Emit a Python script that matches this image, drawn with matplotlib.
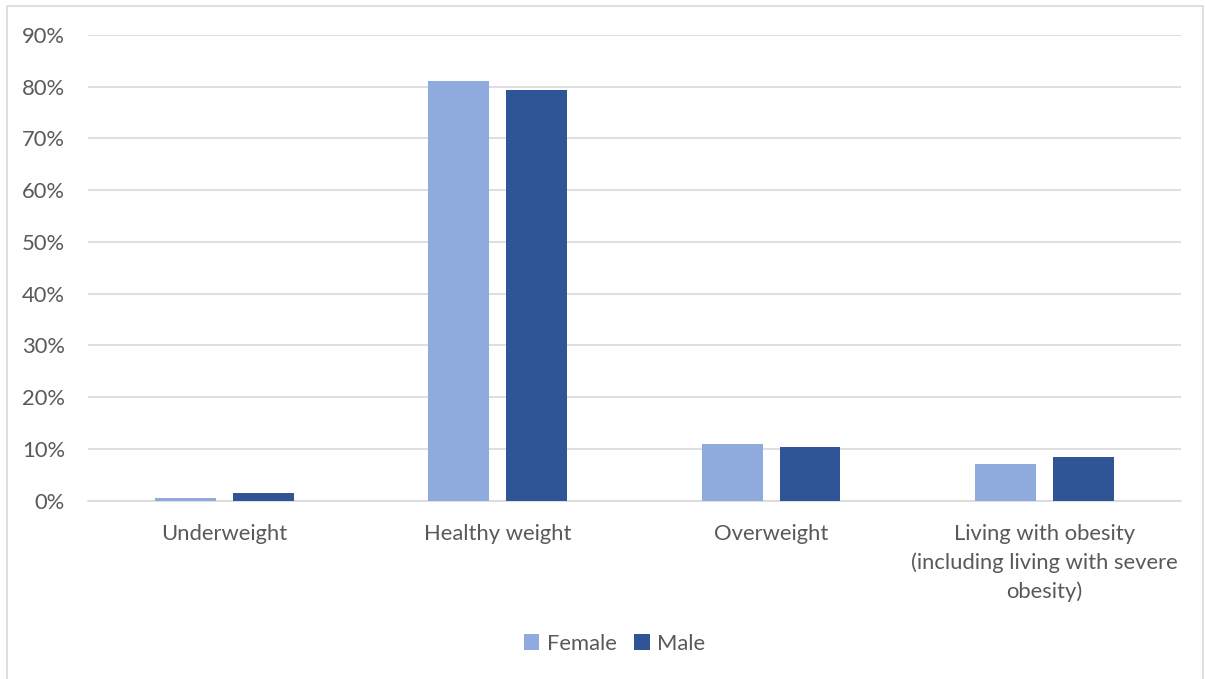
import matplotlib
matplotlib.use("Agg")
import matplotlib.pyplot as plt
from matplotlib.patches import Rectangle
from matplotlib.ticker import PercentFormatter, MultipleLocator

plt.rcParams['font.family'] = ['Lato', 'DejaVu Sans']

categories = ["Underweight", "Healthy weight", "Overweight",
              "Living with obesity\n(including living with severe\nobesity)"]
female = [0.45, 81.1, 10.9, 7.15]
male = [1.55, 79.3, 10.3, 8.4]
series_names = ["Female", "Male"]
colors = ["#8faadc", "#2f5597"]
text_color = "#595959"
grid_color = "#d9d9d9"
fs = 15.8

fig = plt.figure(figsize=(12.05, 6.79), dpi=100)
ax = fig.add_axes([0.073, 0.2626, 0.907, 0.686])

x = range(len(categories))
width = 0.223
offset = 0.1425
ax.bar([i - offset for i in x], female, width, color=colors[0], label=series_names[0], zorder=3)
ax.bar([i + offset for i in x], male, width, color=colors[1], label=series_names[1], zorder=3)

ax.set_xlim(-0.5, len(categories) - 0.5)
ax.set_ylim(0, 90)
ax.yaxis.set_major_locator(MultipleLocator(10))
ax.yaxis.set_major_formatter(PercentFormatter(decimals=0))
ax.grid(axis='y', color=grid_color, linewidth=1.2, zorder=0)

for s in ['top', 'right', 'left']:
    ax.spines[s].set_visible(False)
ax.spines['bottom'].set_color(grid_color)
ax.spines['bottom'].set_linewidth(1.2)

ax.set_xticks(list(x))
ax.set_xticklabels(categories, fontsize=fs, color=text_color, linespacing=1.5, va='top')
ax.tick_params(axis='x', length=0, pad=17)
ax.tick_params(axis='y', length=0, labelsize=fs, labelcolor=text_color, pad=16.5)

leg = fig.legend(loc='center', bbox_to_anchor=(0.51, 0.052), ncol=2, frameon=False,
                 fontsize=fs, handlelength=0.7, handleheight=0.7, handletextpad=0.35,
                 columnspacing=0.8)
for t in leg.get_texts():
    t.set_color(text_color)

fig.patches.append(Rectangle((7 / 1205, -0.05), (1203 - 7) / 1205, 1.05 - 6 / 679,
                             transform=fig.transFigure, fill=False,
                             edgecolor=grid_color, linewidth=1.2))

fig.savefig("out.png", dpi=100)
